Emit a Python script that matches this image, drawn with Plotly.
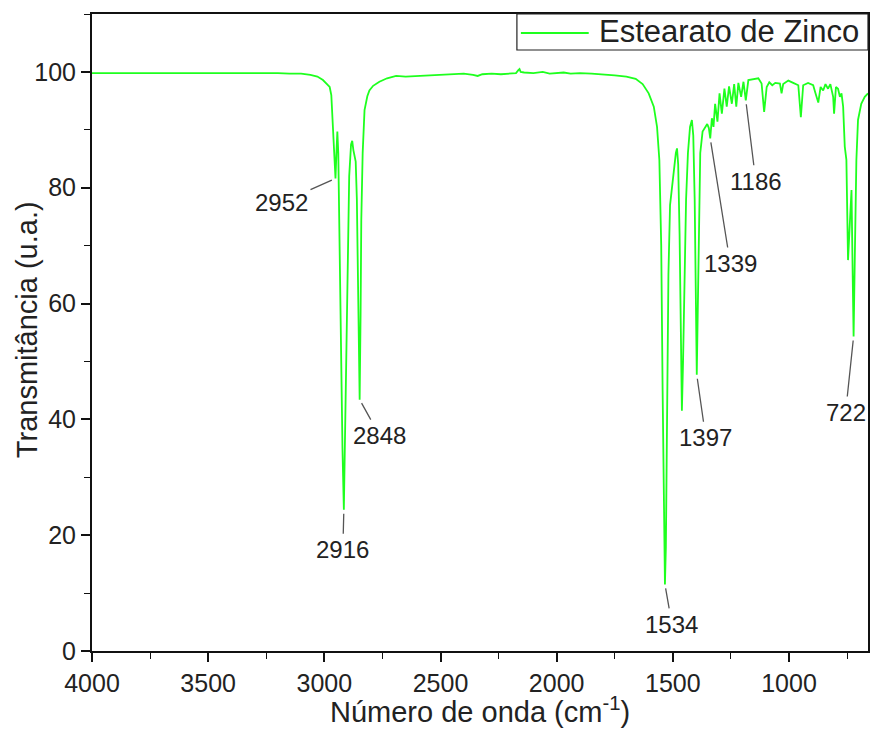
import plotly.graph_objects as go

# FTIR spectrum of zinc stearate: wavenumber (cm-1) and transmittance (u.a.)
wavenumber = [
    4000, 3900, 3800, 3700, 3600, 3500, 3400, 3300, 3200, 3150, 3100, 3060, 3030,
    3006, 2990, 2977, 2970, 2965, 2960, 2956, 2952, 2948, 2944, 2940, 2935, 2928,
    2922, 2916, 2910, 2902, 2893, 2885, 2880, 2875, 2870, 2865, 2860, 2854, 2848,
    2844, 2841, 2835, 2827, 2815, 2806, 2790, 2763, 2730, 2691, 2650, 2600, 2550,
    2500, 2450, 2400, 2360, 2340, 2320, 2280, 2240, 2200, 2175, 2165, 2160, 2155,
    2140, 2100, 2060, 2030, 2000, 1970, 1940, 1900, 1850, 1800, 1750, 1700, 1660,
    1630, 1604, 1582, 1568, 1558, 1550, 1544, 1538, 1534, 1530, 1525, 1519, 1512,
    1504, 1495, 1487, 1482, 1477, 1471, 1466, 1461, 1456, 1450, 1443, 1435, 1426,
    1418, 1412, 1406, 1401, 1397, 1393, 1388, 1382, 1372, 1361, 1352, 1345, 1339,
    1332, 1325, 1318, 1308, 1299, 1289, 1278, 1268, 1258, 1246, 1236, 1227, 1218,
    1206, 1196, 1186, 1175, 1153, 1132, 1118, 1107, 1096, 1085, 1072, 1059, 1039,
    1032, 1025, 1003, 982, 960, 949, 939, 918, 896, 886, 874, 864, 853, 843, 832,
    822, 810, 806, 798, 789, 781, 774, 767, 760, 756, 753, 746, 738, 731, 726, 722,
    716, 710, 703, 689, 674, 660,
]
transmittance = [
    99.8, 99.8, 99.8, 99.9, 99.9, 99.9, 99.9, 99.8, 99.8, 99.7, 99.7, 99.5, 99.2,
    98.6, 98.0, 97.4, 96.0, 92.0, 86.0, 83.5, 81.6, 86.0, 89.7, 86.0, 70.0, 50.0,
    35.0, 24.4, 40.0, 65.0, 82.0, 87.5, 88.1, 86.5, 85.3, 84.5, 78.0, 60.0, 43.4,
    58.0, 74.4, 86.0, 93.4, 95.8, 96.8, 97.6, 98.3, 98.9, 99.3, 99.2, 99.3, 99.5,
    99.6, 99.6, 99.7, 99.5, 99.3, 99.6, 99.7, 99.6, 99.7, 99.8, 100.3, 100.5, 100.0,
    99.9, 99.8, 100.0, 99.7, 99.8, 99.9, 99.7, 99.8, 99.7, 99.6, 99.4, 99.2, 98.8,
    97.9, 96.3, 94.0, 90.5, 84.8, 70.0, 45.0, 20.0, 11.5, 18.0, 40.0, 65.0, 77.0,
    80.2, 82.5, 86.0, 86.8, 84.0, 72.0, 55.0, 41.5, 50.0, 65.0, 78.0, 86.0, 90.5,
    91.7, 89.0, 78.0, 60.0, 47.7, 58.0, 75.0, 86.0, 89.7, 90.5, 91.0, 90.3, 88.5,
    92.0, 90.5, 94.5, 91.4, 96.3, 92.8, 97.1, 94.0, 97.5, 94.5, 97.9, 94.0, 98.1,
    95.7, 98.3, 95.1, 98.6, 98.7, 98.9, 98.0, 93.1, 97.4, 98.2, 97.7, 98.1, 98.0,
    96.3, 97.9, 98.5, 98.1, 97.7, 92.2, 97.7, 98.1, 97.7, 96.3, 94.7, 97.4, 96.8,
    97.9, 97.1, 97.9, 95.7, 92.8, 97.4, 97.1, 95.7, 96.3, 94.0, 87.1, 85.9, 84.8,
    67.5, 73.3, 79.6, 65.0, 54.3, 70.0, 84.8, 91.7, 94.5, 95.7, 96.3,
]

# Labelled bands and the pixel offset of each label from its band
band_labels = [2952, 2916, 2848, 1534, 1397, 1339, 1186, 722]
label_dx = [-54, -1, 20, 7, 9, 20, 10, -8]
label_dy = [24, 40, 36, 40, 63, 125, 81, 76]

series_name = "Estearato de Zinco"
x_title = "Número de onda (cm<sup>-1</sup>)"
y_title = "Transmitância (u.a.)"

FONT = "Arial, Liberation Sans, sans-serif"
GREEN = "#1eff1e"
W, H = 873, 730
ML, MR, MT, MB = 92, 3, 14, 79
PW, PH = W - ML - MR, H - MT - MB


def px_x(px):
    return (px - ML) / PW


def px_y(py):
    return (H - MB - py) / PH


fig = go.Figure()
fig.add_trace(go.Scatter(
    x=wavenumber, y=transmittance, mode="lines", name=series_name,
    line=dict(color=GREEN, width=1.8), showlegend=False,
))

annotations = []
for wn, dx, dy in zip(band_labels, label_dx, label_dy):
    t = transmittance[wavenumber.index(wn)]
    annotations.append(dict(
        x=wn, y=t, xref="x", yref="y", text=str(wn), showarrow=True,
        ax=dx, ay=dy, arrowhead=0, arrowwidth=1.3, arrowcolor="#555555",
        standoff=4, borderpad=2, font=dict(family=FONT, size=24, color="#222222"),
    ))

# axis titles
annotations.append(dict(
    x=px_x(481), y=px_y(729), xref="paper", yref="paper", text=x_title,
    showarrow=False, xanchor="center", yanchor="bottom", borderpad=0,
    font=dict(family=FONT, size=29, color="#222222"),
))
annotations.append(dict(
    x=px_x(27), y=px_y(330), xref="paper", yref="paper", text=y_title,
    showarrow=False, textangle=-90, xanchor="center", yanchor="middle",
    font=dict(family=FONT, size=29, color="#222222"),
))

# legend box
annotations.append(dict(
    x=px_x(598), y=px_y(32), xref="paper", yref="paper", text=series_name,
    showarrow=False, xanchor="left", yanchor="middle",
    font=dict(family=FONT, size=31, color="#222222"),
))
shapes = [
    dict(type="rect", xref="paper", yref="paper", x0=px_x(518), x1=1.0,
         y0=px_y(50), y1=1.0, line=dict(color="#222222", width=1.2),
         fillcolor="white", layer="above"),
    dict(type="line", xref="paper", yref="paper", x0=px_x(522), x1=px_x(590),
         y0=px_y(33), y1=px_y(33), line=dict(color=GREEN, width=1.8)),
]

axis_common = dict(
    showline=True, linecolor="#111111", linewidth=2, mirror=True,
    ticks="outside", ticklen=9, tickwidth=1.5, tickcolor="#111111",
    showgrid=False, zeroline=False,
    tickfont=dict(family=FONT, size=25, color="#222222"),
)

fig.update_layout(
    width=W, height=H,
    margin=dict(l=ML, r=MR, t=MT, b=MB),
    plot_bgcolor="white", paper_bgcolor="white",
    xaxis=dict(range=[4000, 660], tick0=0, dtick=500,
               minor=dict(ticks="outside", ticklen=6, tickwidth=1.3,
                          tickcolor="#111111", dtick=250, tick0=0),
               **axis_common),
    yaxis=dict(range=[0, 110], tick0=0, dtick=20,
               minor=dict(ticks="outside", ticklen=6, tickwidth=1.3,
                          tickcolor="#111111", dtick=10, tick0=0),
               **axis_common),
    annotations=annotations,
    shapes=shapes,
)

fig.write_html("out.html")
